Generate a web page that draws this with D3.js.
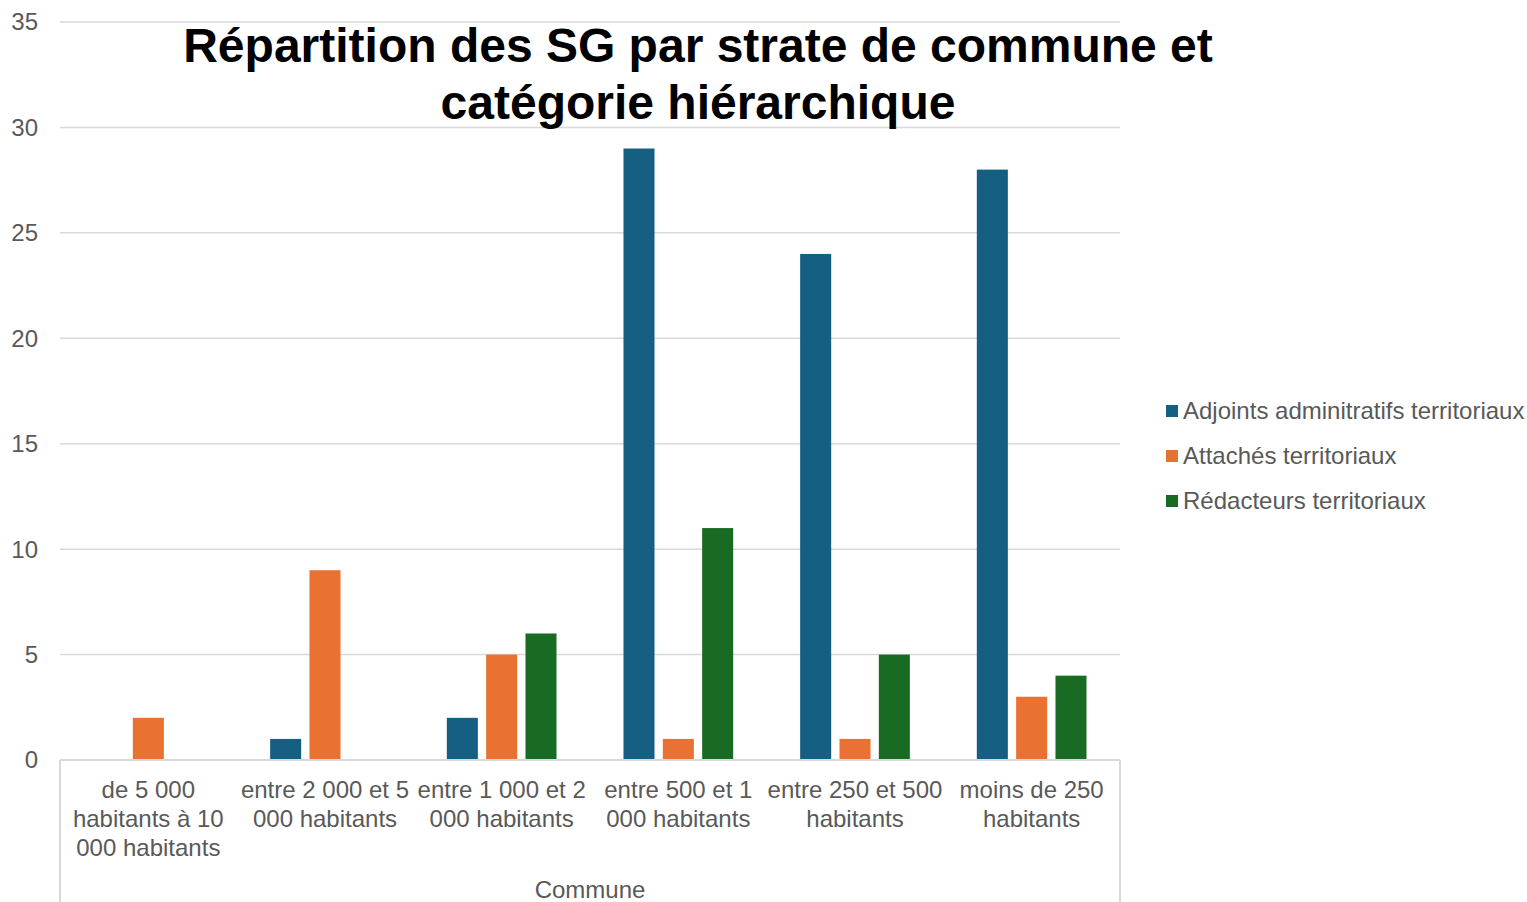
<!DOCTYPE html>
<html>
<head>
<meta charset="utf-8">
<script src="https://cdn.jsdelivr.net/npm/d3@7"></script>
<style>
  html, body { margin: 0; padding: 0; background: #fff; }
  svg { display: block; font-family: "Liberation Sans", Arial, sans-serif; }
</style>
</head>
<body>
<svg id="chart" width="1527" height="902"></svg>
<script>
const categories = [
  "de 5 000 habitants à 10 000 habitants",
  "entre 2 000 et 5 000 habitants",
  "entre 1 000 et 2 000 habitants",
  "entre 500 et 1 000 habitants",
  "entre 250 et 500 habitants",
  "moins de 250 habitants"
];
const seriesNames = ["Adjoints adminitratifs territoriaux", "Attachés territoriaux", "Rédacteurs territoriaux"];
const adjoints = [null, 1, 2, 29, 24, 28];
const attaches = [2, 9, 5, 1, 1, 3];
const redacteurs = [null, null, 6, 11, 5, 4];
const seriesValues = [adjoints, attaches, redacteurs];
const colors = ["#156082", "#E97132", "#196B24"];
const yTicks = [0, 5, 10, 15, 20, 25, 30, 35];
const titleLines = ["Répartition des SG par strate de commune et", "catégorie hiérarchique"];
const axisTitle = "Commune";

(function () {
const svg = d3.select("#chart");
const pLeft = 60, pRight = 1120, pTop = 22, pBottom = 760;
const fs = 24;

const x0 = d3.scaleBand().domain(categories).range([pLeft, pRight]).padding(0);
const bw = x0.bandwidth();
const groupW = 118;
const x1 = d3.scaleBand().domain(d3.range(seriesNames.length))
  .range([bw / 2 - groupW / 2, bw / 2 + groupW / 2])
  .paddingInner(0.211).paddingOuter(0.1055);
const y = d3.scaleLinear().domain([0, 35]).range([pBottom, pTop]);

// gridlines
svg.append("g").selectAll("line").data(yTicks.filter(t => t > 0)).join("line")
  .attr("x1", pLeft).attr("x2", pRight)
  .attr("y1", d => y(d)).attr("y2", d => y(d))
  .attr("stroke", "#d9d9d9").attr("stroke-width", 1.5);

// y tick labels
svg.append("g").selectAll("text").data(yTicks).join("text")
  .attr("x", 38).attr("y", d => y(d)).attr("dy", "0.35em")
  .attr("text-anchor", "end").attr("font-size", fs).attr("fill", "#595959")
  .text(d => d);

// bars
const groups = svg.append("g").selectAll("g").data(categories).join("g")
  .attr("transform", d => `translate(${x0(d)},0)`);
groups.selectAll("rect")
  .data((c, ci) => seriesValues.map((vals, si) => ({ si, v: vals[ci] })).filter(d => d.v != null && d.v > 0))
  .join("rect")
  .attr("x", d => x1(d.si)).attr("width", x1.bandwidth())
  .attr("y", d => y(d.v)).attr("height", d => y(0) - y(d.v))
  .attr("fill", d => colors[d.si]);

// axis lines
svg.append("line").attr("x1", pLeft).attr("x2", pRight).attr("y1", pBottom).attr("y2", pBottom)
  .attr("stroke", "#d9d9d9").attr("stroke-width", 2);
svg.append("line").attr("x1", pLeft).attr("x2", pLeft).attr("y1", pBottom).attr("y2", 902)
  .attr("stroke", "#d9d9d9").attr("stroke-width", 2);
svg.append("line").attr("x1", pRight).attr("x2", pRight).attr("y1", pBottom).attr("y2", 902)
  .attr("stroke", "#d9d9d9").attr("stroke-width", 2);

// category labels with wrapping
const maxW = bw - 0.5;
const catLabels = svg.append("g").selectAll("text").data(categories).join("text")
  .attr("text-anchor", "middle").attr("font-size", fs).attr("fill", "#595959")
  .attr("x", d => x0(d) + bw / 2);
catLabels.each(function (d) {
  const t = d3.select(this);
  const words = d.split(" ");
  let lines = [], cur = [];
  const probe = t.append("tspan");
  words.forEach(w => {
    const test = cur.concat([w]).join(" ");
    probe.text(test);
    if (probe.node().getComputedTextLength() > maxW && cur.length) {
      lines.push(cur.join(" "));
      cur = [w];
    } else cur.push(w);
  });
  lines.push(cur.join(" "));
  probe.remove();
  lines.forEach((ln, i) => {
    t.append("tspan").attr("x", x0(d) + bw / 2).attr("y", 798 + i * 29).text(ln);
  });
});

// axis title
svg.append("text").attr("x", (pLeft + pRight) / 2).attr("y", 898)
  .attr("text-anchor", "middle").attr("font-size", fs).attr("fill", "#595959")
  .text(axisTitle);

// title
svg.append("g").selectAll("text").data(titleLines).join("text")
  .attr("x", 698).attr("y", (d, i) => 62 + i * 57)
  .attr("text-anchor", "middle").attr("font-size", 48).attr("font-weight", "bold")
  .attr("fill", "#000").text(d => d);

// legend
const lg = svg.append("g").selectAll("g").data(seriesNames).join("g")
  .attr("transform", (d, i) => `translate(1166, ${411 + i * 45})`);
lg.append("rect").attr("x", 0).attr("y", -6).attr("width", 12).attr("height", 12)
  .attr("fill", (d, i) => colors[i]);
lg.append("text").attr("x", 17).attr("y", 0).attr("dy", "0.35em")
  .attr("font-size", fs).attr("fill", "#595959").text(d => d);
})();
</script>
</body>
</html>
